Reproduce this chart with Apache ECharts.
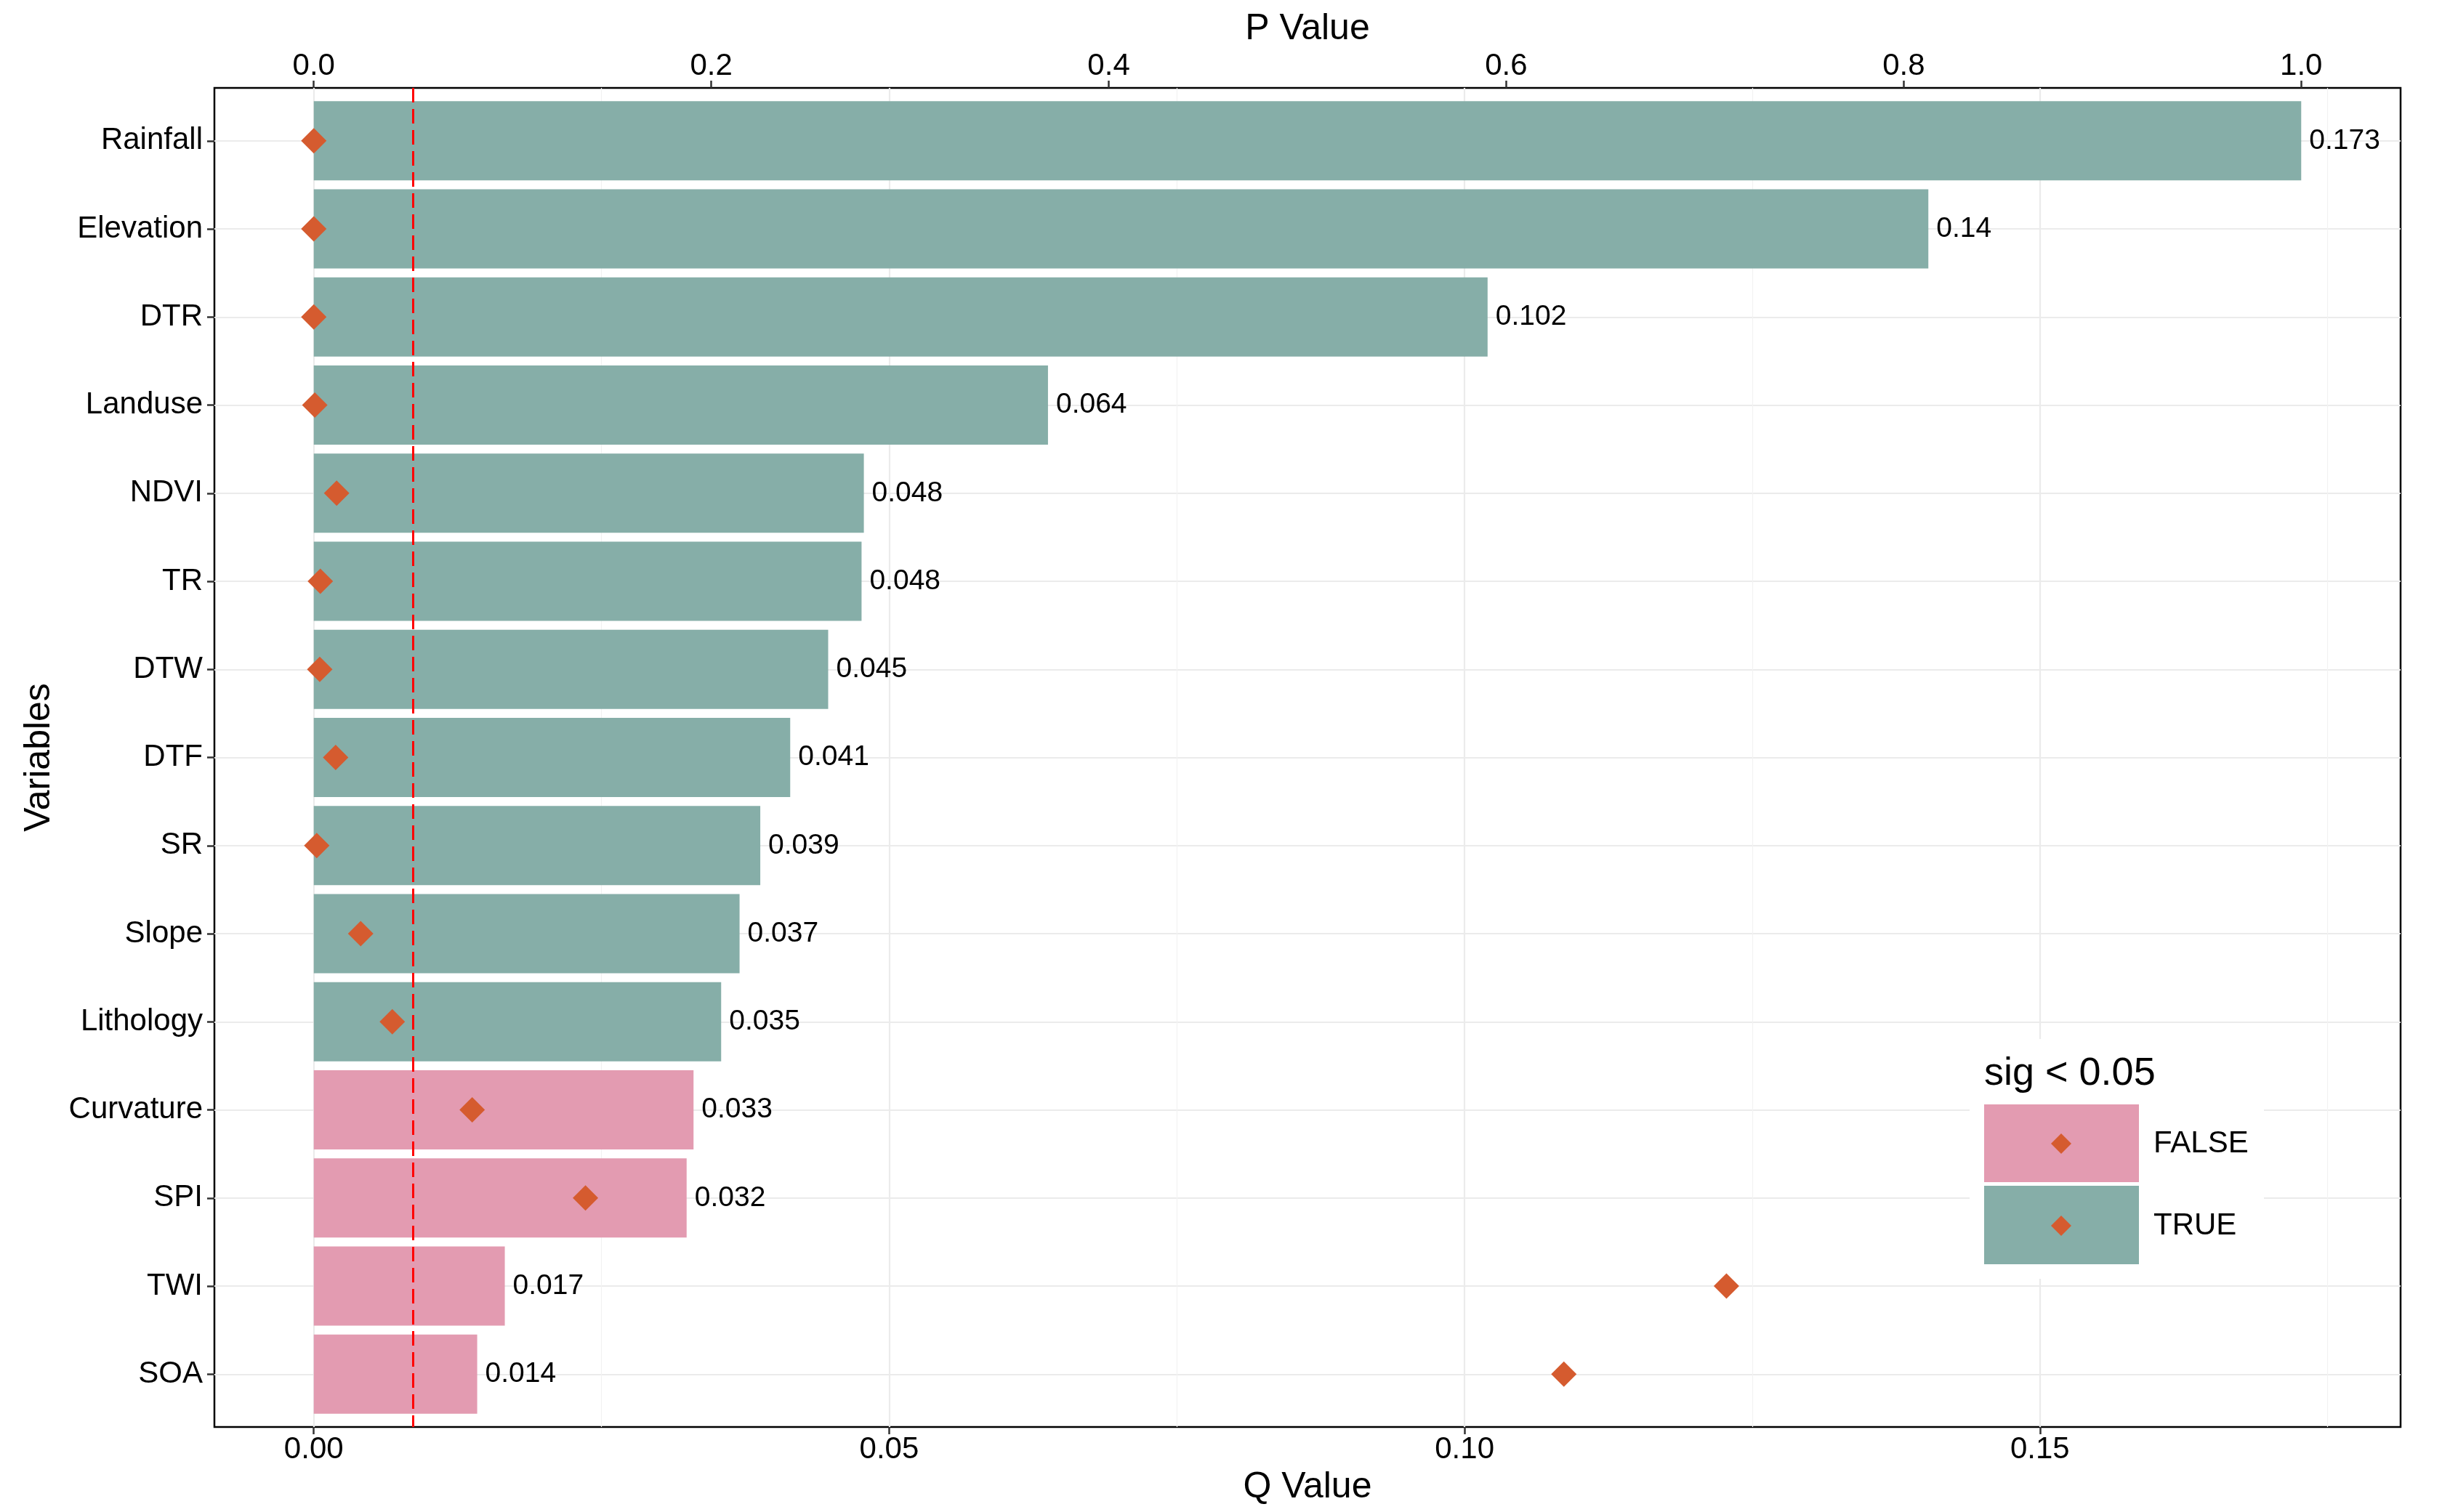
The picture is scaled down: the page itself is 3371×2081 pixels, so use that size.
<!DOCTYPE html>
<html>
<head>
<meta charset="utf-8">
<title>Q Value and P Value by variable</title>
<script src="https://cdn.jsdelivr.net/npm/echarts@6/dist/echarts.min.js"></script>
<style>
html, body { margin: 0; padding: 0; background: #fff; }
#chart { width: 3371px; height: 2081px; }
</style>
</head>
<body>
<div id="chart"></div>
<script>
// data
var variables = ['Rainfall', 'Elevation', 'DTR', 'Landuse', 'NDVI', 'TR', 'DTW', 'DTF',
                 'SR', 'Slope', 'Lithology', 'Curvature', 'SPI', 'TWI', 'SOA'];
var qValues = [0.1727, 0.1403, 0.1020, 0.0638, 0.0478, 0.0476, 0.0447, 0.0414,
               0.0388, 0.0370, 0.0354, 0.0330, 0.0324, 0.0166, 0.0142];
var pValues = [0.0000, 0.0000, 0.0000, 0.0005, 0.0115, 0.0033, 0.0030, 0.0110,
               0.0015, 0.0236, 0.0395, 0.0797, 0.1367, 0.7108, 0.6290];
var sigLevel = 0.05;
var qTicks = [0, 0.05, 0.10, 0.15];
var qMinorTicks = [0.025, 0.075, 0.125, 0.175];
var pTicks = [0, 0.2, 0.4, 0.6, 0.8, 1.0];
var rowTicks = variables.map(function (v, i) { return i; });

var FONT = '"Liberation Sans", Arial, sans-serif';
var TEAL = '#86AEA8';
var PINK = '#E39BB1';
var ORANGE = '#D55B2F';

var qMax = Math.max.apply(null, qValues);

var barData = qValues.map(function (q, i) { return [q, i]; });
var pointData = pValues.map(function (p, i) { return [p, i]; });

var myChart = echarts.init(document.getElementById('chart'));

// legend key diamond, centred on (cx, cy)
function diamond(cx, cy, r)
{
    return {
        type: 'polygon',
        shape: { points: [[cx, cy - r], [cx + r, cy], [cx, cy + r], [cx - r, cy]] },
        style: { fill: ORANGE }
    };
}

var option = {
    animation: false,
    backgroundColor: '#fff',
    textStyle: { fontFamily: FONT },
    grid: {
        left: 295, right: 68, top: 121, bottom: 117,
        show: true, borderColor: '#000', borderWidth: 2.5,
        backgroundColor: 'transparent',
        outerBoundsMode: 'none'
    },
    xAxis: [{
        // Q value, bottom
        type: 'value', position: 'bottom',
        min: -0.05 * qMax, max: 1.05 * qMax,
        name: 'Q Value', nameLocation: 'middle', nameGap: 58,
        nameTextStyle: { fontSize: 50, color: '#000', fontFamily: FONT },
        axisLine: { show: false, onZero: false },
        axisTick: { show: true, customValues: qTicks, length: 10, lineStyle: { color: '#333', width: 2.5 } },
        axisLabel: {
            customValues: qTicks, margin: 10, fontSize: 42, color: '#000', fontFamily: FONT,
            formatter: function (v) { return v.toFixed(2); }
        },
        splitLine: { show: true, lineStyle: { color: '#EBEBEB', width: 2.2 } }
    }, {
        // P value, top
        type: 'value', position: 'top',
        min: -0.05, max: 1.05,
        name: 'P Value', nameLocation: 'middle', nameGap: 53,
        nameTextStyle: { fontSize: 50, color: '#000', fontFamily: FONT },
        axisLine: { show: false, onZero: false },
        axisTick: { show: true, customValues: pTicks, length: 10, lineStyle: { color: '#333', width: 2.5 } },
        axisLabel: {
            customValues: pTicks, margin: 9, fontSize: 42, color: '#000', fontFamily: FONT,
            formatter: function (v) { return v.toFixed(1); }
        },
        splitLine: { show: false }
    }, {
        // minor grid lines of the Q axis
        type: 'value', position: 'bottom',
        min: -0.05 * qMax, max: 1.05 * qMax,
        axisLine: { show: false, onZero: false },
        axisTick: { show: false, customValues: qMinorTicks },
        axisLabel: { show: false, customValues: qMinorTicks },
        splitLine: { show: true, lineStyle: { color: '#F2F2F2', width: 1.2 } }
    }],
    yAxis: {
        type: 'value', inverse: true, position: 'left',
        min: -0.6, max: variables.length - 0.4,
        name: 'Variables', nameLocation: 'middle', nameGap: 216, nameRotate: 90,
        nameTextStyle: { fontSize: 50, color: '#000', fontFamily: FONT },
        axisLine: { show: false, onZero: false },
        axisTick: { show: true, customValues: rowTicks, length: 10, lineStyle: { color: '#333', width: 2.5 } },
        axisLabel: {
            customValues: rowTicks, margin: 16, fontSize: 42, color: '#000', fontFamily: FONT,
            formatter: function (v) { return variables[v]; }
        },
        splitLine: { show: true, lineStyle: { color: '#EBEBEB', width: 2.2 } }
    },
    series: [{
        name: 'Q',
        type: 'custom',
        xAxisIndex: 0,
        yAxisIndex: 0,
        z: 2,
        data: barData,
        renderItem: function (params, api) {
            var q = api.value(0);
            var i = api.value(1);
            var start = api.coord([0, i]);
            var end = api.coord([q, i]);
            var h = api.size([0, 0.9])[1];
            var sig = pValues[i] < sigLevel;
            return {
                type: 'group',
                children: [{
                    type: 'rect',
                    shape: { x: start[0], y: start[1] - h / 2, width: end[0] - start[0], height: h },
                    style: { fill: sig ? TEAL : PINK }
                }, {
                    type: 'text',
                    style: {
                        text: String(+q.toFixed(3)),
                        x: end[0] + 11, y: end[1],
                        align: 'left', verticalAlign: 'middle',
                        fontSize: 39, fontFamily: FONT, fill: '#000'
                    }
                }]
            };
        }
    }, {
        name: 'P',
        type: 'scatter',
        xAxisIndex: 1,
        yAxisIndex: 0,
        z: 4,
        symbol: 'diamond',
        symbolSize: 35,
        itemStyle: { color: ORANGE, opacity: 1 },
        data: pointData,
        markLine: {
            silent: true,
            symbol: 'none',
            z: 3,
            label: { show: false },
            lineStyle: { color: '#FF0000', width: 3, type: [20, 9] },
            data: [{ xAxis: sigLevel }]
        }
    }],
    graphic: [{
        type: 'group',
        x: 2710, y: 1430,
        z: 20,
        children: [
            { type: 'rect', z: 20, shape: { x: 0, y: 0, width: 405, height: 330 }, style: { fill: '#fff' } },
            { type: 'text', z: 21, x: 20, y: 48, style: { text: 'sig < 0.05', fontSize: 54, fontFamily: FONT, fill: '#000', verticalAlign: 'middle' } },
            { type: 'rect', z: 21, shape: { x: 20, y: 90, width: 213, height: 107 }, style: { fill: PINK } },
            { type: 'rect', z: 21, shape: { x: 20, y: 202, width: 213, height: 108 }, style: { fill: TEAL } },
            Object.assign(diamond(126, 144, 14), { z: 22 }),
            Object.assign(diamond(126, 257, 14), { z: 22 }),
            { type: 'text', z: 21, x: 253, y: 144, style: { text: 'FALSE', fontSize: 42, fontFamily: FONT, fill: '#000', verticalAlign: 'middle' } },
            { type: 'text', z: 21, x: 253, y: 257, style: { text: 'TRUE', fontSize: 42, fontFamily: FONT, fill: '#000', verticalAlign: 'middle' } }
        ]
    }]
};

myChart.setOption(option);
</script>
</body>
</html>
